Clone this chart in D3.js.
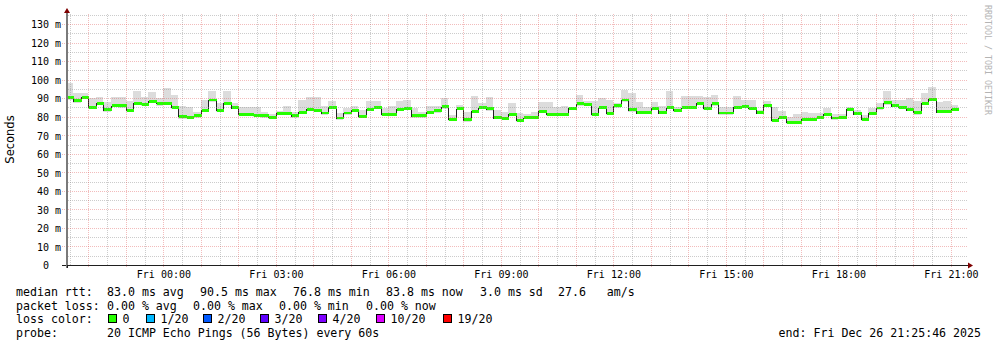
<!DOCTYPE html>
<html>
<head>
<meta charset="utf-8">
<script src="https://cdnjs.cloudflare.com/ajax/libs/d3/7.8.5/d3.min.js"></script>
<style>
body { margin: 0; background: #fff; }
svg { display: block; }
text { white-space: pre; }
</style>
</head>
<body>
<svg id="chart" width="997" height="347"></svg>
<script>
// one day of smokeping data, 12 minute steps
var start = new Date(2025, 11, 25, 21, 25, 46);
var end = new Date(2025, 11, 26, 21, 25, 46);
var firstStep = new Date(2025, 11, 25, 21, 24, 0);
var stepMinutes = 12;

// median rtt in ms
var median = [
  90.6, 88.6, 90.5, 85.2, 87.2, 83.8, 86.0, 85.8, 83.4, 87.2,
  86.7, 88.3, 87.2, 87.2, 85.2, 80.2, 79.8, 80.4, 83.6, 89.0,
  83.4, 87.2, 84.9, 81.3, 81.3, 80.7, 80.4, 79.6, 81.8, 81.8,
  80.4, 82.3, 84.1, 83.6, 82.0, 85.0, 79.3, 82.0, 83.4, 80.2,
  84.1, 84.9, 81.3, 81.3, 84.1, 84.5, 80.4, 80.4, 82.5, 83.2,
  85.4, 78.6, 84.3, 78.4, 82.9, 84.9, 84.3, 79.5, 79.1, 81.3,
  78.0, 79.5, 79.6, 83.0, 81.3, 81.3, 81.3, 84.5, 87.0, 86.8,
  81.3, 84.9, 81.8, 85.8, 89.0, 83.8, 82.2, 82.2, 84.5, 82.2,
  84.9, 83.6, 84.9, 85.0, 87.2, 84.5, 87.0, 82.0, 82.0, 85.2,
  85.6, 84.5, 82.2, 86.1, 78.0, 79.5, 76.9, 76.9, 78.6, 78.7,
  79.5, 81.3, 79.3, 79.5, 84.0, 81.6, 78.6, 81.8, 84.7, 87.4,
  86.0, 85.2, 83.8, 82.3, 87.2, 89.5, 82.7, 82.7, 84.1
];

// highest ping of each step (top of the smoke)
var smokeHi = [
  98.2, 92.8, 92.8, 89.9, 90.8, 88.1, 90.8, 90.5, 88.6, 94.0,
  90.8, 93.5, 89.9, 95.3, 91.7, 86.0, 85.0, 82.7, 89.2, 94.0,
  87.2, 94.0, 87.4, 85.0, 85.0, 85.0, 82.7, 81.4, 83.2, 86.0,
  82.3, 89.2, 90.5, 90.8, 85.6, 88.6, 82.0, 84.5, 86.0, 83.6,
  88.6, 88.6, 84.7, 86.0, 88.6, 89.2, 84.7, 82.7, 86.0, 86.0,
  89.9, 80.9, 86.5, 82.7, 91.4, 87.4, 90.8, 83.8, 82.3, 87.4,
  82.0, 81.4, 82.3, 87.7, 87.7, 85.4, 86.0, 85.4, 91.9, 88.6,
  88.3, 90.1, 89.2, 87.4, 94.6, 92.6, 87.7, 85.4, 87.7, 85.6,
  93.7, 85.0, 91.0, 91.4, 91.4, 90.8, 91.9, 85.0, 85.0, 91.4,
  89.2, 89.2, 83.8, 88.6, 85.4, 83.2, 79.6, 81.4, 82.7, 82.0,
  82.0, 84.7, 81.4, 81.4, 85.0, 83.8, 80.9, 84.5, 87.4, 93.7,
  89.2, 89.2, 89.9, 88.6, 92.6, 95.9, 87.7, 88.3, 86.5
];

// lowest ping of each step (bottom of the smoke)
var smokeLo = [
  89.2, 87.6, 89.6, 84.2, 86.3, 82.4, 85.1, 84.6, 82.5, 86.2,
  85.8, 87.4, 86.0, 86.3, 84.2, 79.0, 78.6, 79.4, 82.7, 88.1,
  82.4, 86.1, 84.0, 80.4, 80.3, 79.8, 79.5, 78.7, 80.9, 80.8,
  79.4, 81.3, 83.0, 82.6, 81.1, 84.1, 78.3, 81.1, 82.4, 79.3,
  83.2, 83.9, 80.4, 80.3, 83.2, 83.5, 79.4, 79.5, 81.5, 82.2,
  84.4, 77.6, 83.4, 77.4, 81.9, 84.0, 83.3, 78.5, 78.2, 80.4,
  77.0, 78.6, 78.7, 82.0, 80.4, 80.3, 80.3, 83.6, 86.0, 85.9,
  80.3, 83.9, 80.9, 84.9, 88.0, 82.8, 81.3, 81.2, 83.6, 81.3,
  83.9, 82.7, 83.9, 84.1, 86.2, 83.6, 86.0, 81.1, 81.0, 84.2,
  84.7, 83.5, 81.3, 85.1, 77.0, 78.6, 76.0, 75.9, 77.7, 77.8,
  78.6, 80.4, 78.4, 78.6, 83.1, 80.7, 77.7, 80.9, 83.8, 86.4,
  85.1, 84.3, 82.9, 81.0, 86.3, 88.5, 81.8, 81.8, 83.2
];

var yTicks = [0, 10, 20, 30, 40, 50, 60, 70, 80, 90, 100, 110, 120, 130];
var yMax = 135.4;

var lossLabels = ["0", "1/20", "2/20", "3/20", "4/20", "10/20", "19/20"];
var lossColors = ["#26ff00", "#00b8ff", "#0059ff", "#5e00ff", "#7e00ff", "#dd00ff", "#ff0000"];

var statsRtt = ["83.0 ms avg", "90.5 ms max", "76.8 ms min", "83.8 ms now", "3.0 ms sd", "27.6   am/s"];
var statsLoss = ["0.00 % avg", "0.00 % max", "0.00 % min", "0.00 % now"];
var probeText = "20 ICMP Echo Pings (56 Bytes) every 60s";
var endText = "end: Fri Dec 26 21:25:46 2025";

// layout
var pLeft = 67, pRight = 967, pTop = 14, pBottom = 265;
var mono = "'DejaVu Sans Mono', monospace";

var x = d3.scaleTime().domain([start, end]).range([pLeft, pRight]);
var y = d3.scaleLinear().domain([0, yMax]).range([pBottom, pTop]);

var steps = median.map(function(m, i) {
  return {
    t0: d3.timeMinute.offset(firstStep, i * stepMinutes),
    t1: d3.timeMinute.offset(firstStep, (i + 1) * stepMinutes),
    med: m,
    hi: smokeHi[i],
    lo: smokeLo[i]
  };
});

var svg = d3.select('#chart');

svg.append('clipPath').attr('id', 'plotclip')
  .append('rect')
    .attr('x', pLeft).attr('y', pTop - 4)
    .attr('width', pRight - pLeft).attr('height', pBottom - pTop + 4);

var plot = svg.append('g').attr('clip-path', 'url(#plotclip)');

// smoke
plot.selectAll('.smoke')
  .data(steps)
  .enter()
  .append('rect')
    .attr('class', 'smoke')
    .attr('x', function(d) { return Math.round(x(d.t0)) })
    .attr('width', function(d) { return Math.round(x(d.t1)) - Math.round(x(d.t0)) })
    .attr('y', function(d) { return Math.round(y(d.hi)) })
    .attr('height', function(d) { return Math.round(y(d.lo)) - Math.round(y(d.hi)) })
    .attr('fill', '#dcdcdc')
    .attr('shape-rendering', 'crispEdges');

// median line
var linePts = steps.map(function(d) { return { t: d.t0, v: d.med } });
linePts.push({ t: steps[steps.length - 1].t1, v: steps[steps.length - 1].med });

var line = d3.line()
  .curve(d3.curveStepAfter)
  .x(function(d) { return Math.round(x(d.t)) + 0.5 })
  .y(function(d) { return Math.round(y(d.v)) + 0.5 });

plot.append('path')
  .attr('d', line(linePts))
  .attr('fill', 'none')
  .attr('stroke', '#202020')
  .attr('stroke-width', 1)
  .attr('shape-rendering', 'crispEdges');

// loss colour band around the median (no loss -> green)
plot.selectAll('.med')
  .data(steps)
  .enter()
  .append('rect')
    .attr('class', 'med')
    .attr('x', function(d) { return Math.round(x(d.t0)) + 1 })
    .attr('width', function(d) { return Math.round(x(d.t1)) - Math.round(x(d.t0)) })
    .attr('y', function(d) { return Math.round(y(d.med + 0.8)) })
    .attr('height', function(d) { return Math.round(y(d.med - 0.8)) - Math.round(y(d.med + 0.8)) })
    .attr('fill', lossColors[0])
    .attr('shape-rendering', 'crispEdges');

// grid
var grid = svg.append('g').attr('shape-rendering', 'crispEdges');

var minorY = d3.range(5, yMax, 10);
grid.selectAll('.hminor')
  .data(minorY)
  .enter()
  .append('line')
    .attr('x1', pLeft + 1).attr('x2', pRight + 1)
    .attr('y1', function(d) { return Math.round(y(d)) + 0.5 })
    .attr('y2', function(d) { return Math.round(y(d)) + 0.5 })
    .attr('stroke', 'rgba(143,143,143,0.45)')
    .attr('stroke-dasharray', '1,1');

var minorX = d3.timeMinute.every(30).range(start, end).filter(function(t) { return t.getMinutes() == 30 });
grid.selectAll('.vminor')
  .data(minorX)
  .enter()
  .append('line')
    .attr('x1', function(d) { return Math.round(x(d)) + 0.5 })
    .attr('x2', function(d) { return Math.round(x(d)) + 0.5 })
    .attr('y1', pBottom).attr('y2', pTop - 1)
    .attr('stroke', 'rgba(143,143,143,0.45)')
    .attr('stroke-dasharray', '1,1');

grid.selectAll('.hmajor')
  .data(yTicks.filter(function(v) { return v > 0 }))
  .enter()
  .append('line')
    .attr('x1', pLeft - 5).attr('x2', pRight + 1)
    .attr('y1', function(d) { return Math.round(y(d)) + 0.5 })
    .attr('y2', function(d) { return Math.round(y(d)) + 0.5 })
    .attr('stroke', 'rgba(222,80,80,0.38)')
    .attr('stroke-dasharray', '1,1');

var majorX = d3.timeHour.range(start, end);
grid.selectAll('.vmajor')
  .data(majorX)
  .enter()
  .append('line')
    .attr('x1', function(d) { return Math.round(x(d)) + 0.5 })
    .attr('x2', function(d) { return Math.round(x(d)) + 0.5 })
    .attr('y1', pBottom + 2).attr('y2', pTop - 1)
    .attr('stroke', 'rgba(222,80,80,0.38)')
    .attr('stroke-dasharray', '1,1');

// axes
var yAxis = d3.axisLeft(y)
  .tickValues(yTicks)
  .tickFormat(function(v) { return v == 0 ? "0\u00a0\u00a0" : v + " m" })
  .tickSize(0)
  .tickPadding(6);

var gy = svg.append('g')
  .attr('transform', 'translate(' + pLeft + ',0)')
  .call(yAxis);
gy.select('.domain').remove();
gy.selectAll('text')
  .attr('font-family', mono)
  .attr('font-size', 10)
  .attr('fill', '#000')
  .attr('dy', '0.38em');

var xAxis = d3.axisBottom(x)
  .ticks(d3.timeHour.every(3))
  .tickFormat(d3.timeFormat('%a %H:%M'))
  .tickSize(0)
  .tickPadding(6);

var gx = svg.append('g')
  .attr('transform', 'translate(0,' + pBottom + ')')
  .call(xAxis);
gx.select('.domain').remove();
gx.selectAll('text')
  .attr('font-family', mono)
  .attr('font-size', 10)
  .attr('fill', '#000');

// axis lines and arrows
svg.append('line')
  .attr('x1', pLeft - 5).attr('x2', pRight + 3)
  .attr('y1', pBottom + 0.5).attr('y2', pBottom + 0.5)
  .attr('stroke', '#1f1f1f')
  .attr('shape-rendering', 'crispEdges');
svg.append('line')
  .attr('x1', pLeft).attr('x2', pLeft)
  .attr('y1', pBottom + 3).attr('y2', pTop - 2)
  .attr('stroke', '#7a7a7a')
  .attr('stroke-width', 2)
  .attr('shape-rendering', 'crispEdges');
svg.append('line')
  .attr('x1', pLeft + 0.5).attr('x2', pLeft + 0.5)
  .attr('y1', pBottom).attr('y2', pBottom + 3)
  .attr('stroke', '#1f1f1f');
svg.append('path')
  .attr('d', 'M' + (pRight + 6) + ',' + (pBottom + 0.5) + 'L' + (pRight + 1) + ',' + (pBottom - 2.5) + 'L' + (pRight + 1) + ',' + (pBottom + 3.5) + 'Z')
  .attr('fill', '#7f0000');
svg.append('path')
  .attr('d', 'M' + pLeft + ',' + (pTop - 6) + 'L' + (pLeft - 3) + ',' + (pTop - 1) + 'L' + (pLeft + 3) + ',' + (pTop - 1) + 'Z')
  .attr('fill', '#7f0000');

svg.append('text')
  .attr('transform', 'translate(14,' + ((pTop + pBottom) / 2) + ') rotate(-90)')
  .attr('text-anchor', 'middle')
  .attr('font-family', "'DejaVu Sans', sans-serif")
  .attr('font-size', 11.5)
  .text('Seconds');

svg.append('text')
  .attr('transform', 'translate(985,5) rotate(90)')
  .attr('font-family', mono)
  .attr('font-size', 8.3)
  .attr('fill', '#b4b4b4')
  .text('RRDTOOL / TOBI OETIKER');

// legend
var legend = svg.append('g')
  .attr('font-family', mono)
  .attr('font-size', 11.6)
  .attr('fill', '#000');

var rttX = [107, 200, 293, 386, 480, 558];
legend.append('text').attr('x', 16).attr('y', 295.5).text('median rtt:');
legend.selectAll('.rtt')
  .data(statsRtt)
  .enter()
  .append('text')
    .attr('x', function(d, i) { return rttX[i] })
    .attr('y', 295.5)
    .text(function(d) { return d });

var lossX = [107, 193, 279, 366];
legend.append('text').attr('x', 16).attr('y', 309.5).text('packet loss:');
legend.selectAll('.loss')
  .data(statsLoss)
  .enter()
  .append('text')
    .attr('x', function(d, i) { return lossX[i] })
    .attr('y', 309.5)
    .text(function(d) { return d });

var boxX = [108, 146, 203, 260, 318, 376, 443];
legend.append('text').attr('x', 16).attr('y', 323).text('loss color:');
var items = legend.selectAll('.lc')
  .data(lossLabels)
  .enter()
  .append('g');
items.append('rect')
  .attr('x', function(d, i) { return boxX[i] + 0.5 })
  .attr('y', 314.5)
  .attr('width', 8)
  .attr('height', 8)
  .attr('fill', function(d, i) { return lossColors[i] })
  .attr('stroke', '#000')
  .attr('stroke-width', 1)
  .attr('shape-rendering', 'crispEdges');
items.append('text')
  .attr('x', function(d, i) { return boxX[i] + 14.5 })
  .attr('y', 323)
  .text(function(d) { return d });

legend.append('text').attr('x', 16).attr('y', 337).text('probe:');
legend.append('text').attr('x', 107).attr('y', 337).text(probeText);
legend.append('text').attr('x', 981).attr('y', 337).attr('text-anchor', 'end').text(endText);
</script>
</body>
</html>
